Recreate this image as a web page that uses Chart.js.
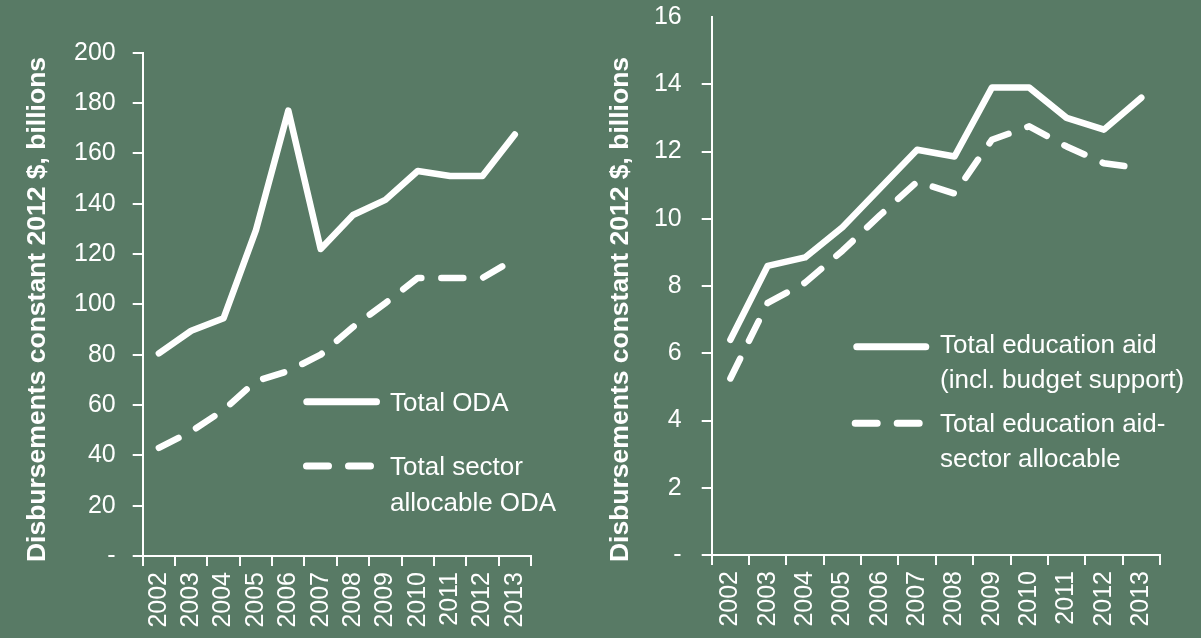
<!DOCTYPE html>
<html>
<head>
<meta charset="utf-8">
<script src="https://cdn.jsdelivr.net/npm/chart.js@4.4.1/dist/chart.umd.min.js"></script>
<style>
  html, body { margin: 0; padding: 0; background: #587a65; }
  #wrap { position: relative; width: 1201px; height: 638px; background: #587a65; overflow: hidden; }
  canvas { position: absolute; top: 0; }
  #oda { left: 0; }
  #edu { left: 600px; }
</style>
</head>
<body>
<div id="wrap">
  <canvas id="oda" width="600" height="638"></canvas>
  <canvas id="edu" width="601" height="638"></canvas>
</div>
<script>
// datos
const years = ['2002', '2003', '2004', '2005', '2006', '2007', '2008', '2009', '2010', '2011', '2012', '2013'];
const totalOda = [80.5, 89.5, 94.5, 129.5, 177, 122, 135.5, 141.5, 153, 151, 151, 167.5];
const sectorOda = [43, 49.5, 58, 69.5, 73.5, 80, 91, 100.5, 110.5, 110.5, 110.5, 118];
const eduTotal = [6.4, 8.6, 8.85, 9.75, 10.9, 12.05, 11.85, 13.9, 13.9, 13.0, 12.65, 13.6];
const eduSector = [5.25, 7.5, 8.1, 9.05, 10.1, 11.1, 10.75, 12.35, 12.75, 12.15, 11.65, 11.5];

const odaLegend = [['Total ODA'], ['Total sector', 'allocable ODA']];
const eduLegend = [['Total education aid', '(incl. budget support)'], ['Total education aid-', 'sector allocable']];
const yTitle = 'Disbursements constant 2012 $, billions';

const white = '#ffffff';
const fam = '"Liberation Sans", Arial, sans-serif';

// titulo del eje y, girado
const yTitlePlugin = {
    id: 'yTitle',
    afterDraw(chart, args, opts) {
        const ctx = chart.ctx;
        ctx.save();
        ctx.fillStyle = white;
        ctx.font = 'bold 26.5px ' + fam;
        ctx.textAlign = 'center';
        ctx.textBaseline = 'alphabetic';
        ctx.translate(opts.x, opts.y);
        ctx.rotate(-Math.PI / 2);
        ctx.fillText(opts.text, 0, 0);
        ctx.restore();
    }
};

// leyenda dentro del area
const lineLegend = {
    id: 'lineLegend',
    afterDraw(chart, args, opts) {
        const ctx = chart.ctx;
        ctx.save();
        ctx.strokeStyle = white;
        ctx.fillStyle = white;
        ctx.lineWidth = 7;
        ctx.lineCap = 'round';
        ctx.font = '26px ' + fam;
        ctx.textAlign = 'left';
        ctx.textBaseline = 'alphabetic';
        opts.items.forEach((it, i) => {
            ctx.setLineDash(chart.data.datasets[i].borderDash || []);
            ctx.beginPath();
            ctx.moveTo(it.x0, it.y);
            ctx.lineTo(it.x1, it.y);
            ctx.stroke();
            opts.labels[i].forEach((t, j) => ctx.fillText(t, opts.textX, it.base + j * opts.gap));
        });
        ctx.restore();
    }
};

const lineDataset = (label, data, dashed) => ({
    label,
    data,
    borderColor: white,
    borderWidth: 6.5,
    borderDash: dashed ? [22, 20] : [],
    borderCapStyle: 'round',
    borderJoinStyle: 'round',
    pointRadius: 0,
    tension: 0,
    fill: false
});

const crearGrafico = (id, sets, yMax, yStep, box, plugOpts, hideTop) => {
    const ctx = document.getElementById(id).getContext('2d');
    return new Chart(ctx, {
        type: 'line',
        data: { labels: years, datasets: sets },
        options: {
            responsive: false,
            animation: false,
            events: [],
            layout: { padding: { left: 0, right: box.right, top: box.top, bottom: 0 } },
            plugins: {
                legend: { display: false },
                tooltip: { enabled: false },
                yTitle: plugOpts.title,
                lineLegend: plugOpts.legend
            },
            scales: {
                x: {
                    offset: true,
                    grid: { offset: true, drawOnChartArea: false, color: white, lineWidth: 2, tickLength: 10 },
                    border: { color: white, width: 2 },
                    ticks: {
                        color: white,
                        font: { size: 25, family: fam },
                        minRotation: 90,
                        maxRotation: 90,
                        autoSkip: false,
                        padding: 6
                    },
                    afterFit: (s) => { s.height = box.xh; }
                },
                y: {
                    min: 0,
                    max: yMax,
                    grid: {
                        drawOnChartArea: false,
                        color: (c) => (hideTop && c.tick && c.tick.value === yMax) ? 'rgba(0,0,0,0)' : white,
                        lineWidth: 2,
                        tickLength: 10
                    },
                    border: { color: white, width: 2 },
                    ticks: {
                        stepSize: yStep,
                        color: white,
                        font: { size: 25, family: fam },
                        padding: box.pad,
                        callback: (v) => v === 0 ? '-' : v
                    },
                    afterFit: (s) => {
                        s.width = box.yw;
                        s.paddingTop = 0;
                        s.paddingBottom = 0;
                    }
                }
            }
        },
        plugins: [yTitlePlugin, lineLegend]
    });
};

crearGrafico('oda',
    [lineDataset('Total ODA', totalOda, false), lineDataset('Total sector allocable ODA', sectorOda, true)],
    200, 20,
    { right: 69, top: 52.7, xh: 82, yw: 142.7, pad: 17 },
    {
        title: { text: yTitle, x: 45, y: 309.5 },
        legend: {
            labels: odaLegend,
            textX: 390,
            gap: 36.5,
            items: [
                { x0: 306.8, x1: 376.5, y: 401.7, base: 410.7 },
                { x0: 306.5, x1: 372, y: 466, base: 474.5 }
            ]
        }
    },
    false);

crearGrafico('edu',
    [lineDataset('Total education aid (incl. budget support)', eduTotal, false), lineDataset('Total education aid-sector allocable', eduSector, true)],
    16, 2,
    { right: 41, top: 17, xh: 83, yw: 111.7, pad: 20 },
    {
        title: { text: yTitle, x: 28.3, y: 309.5 },
        legend: {
            labels: eduLegend,
            textX: 340,
            gap: 35,
            items: [
                { x0: 256.8, x1: 325.8, y: 346.7, base: 353.3 },
                { x0: 255.2, x1: 320, y: 423.3, base: 431.7 }
            ]
        }
    },
    true);
</script>
</body>
</html>
